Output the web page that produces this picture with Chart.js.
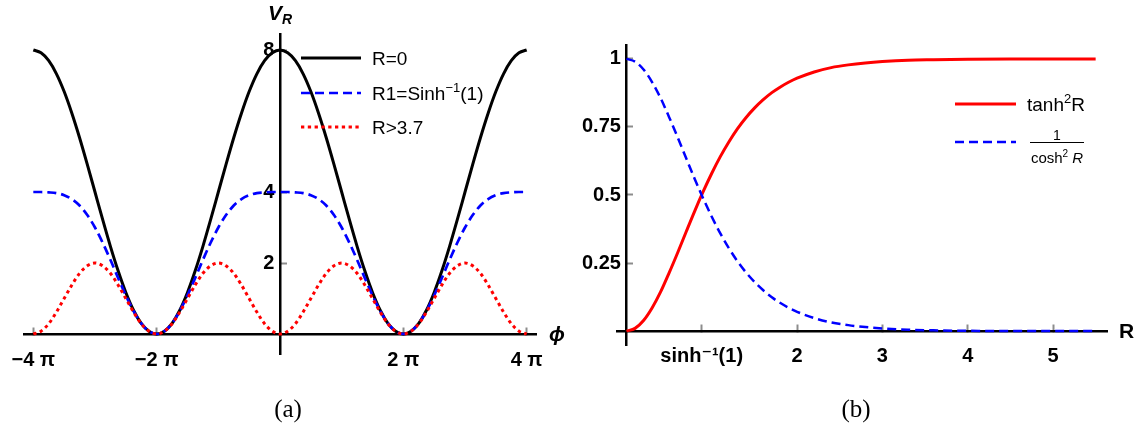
<!DOCTYPE html>
<html>
<head>
<meta charset="utf-8">
<script src="https://cdn.jsdelivr.net/npm/chart.js@4.4.1/dist/chart.umd.min.js"></script>
<style>
  body { margin: 0; background: #fff; }
  #wrap { position: relative; width: 1141px; height: 440px; overflow: hidden; background: #fff; }
  canvas { position: absolute; top: 0; }
  #c1 { left: 0; }
  #c2 { left: 570px; }
  .cap { position: absolute; top: 395px; width: 60px; text-align: center;
         font-family: "Liberation Serif", serif; font-size: 25px; color: #000; }
</style>
</head>
<body>
<div id="wrap">
  <canvas id="c1" width="570" height="440"></canvas>
  <canvas id="c2" width="571" height="440"></canvas>
  <div class="cap" style="left:258px">(a)</div>
  <div class="cap" style="left:826px">(b)</div>
</div>
<script>
// ---- panel (a): phi in units of pi ----
const phi = [-4, -3.875, -3.75, -3.625, -3.5, -3.375, -3.25, -3.125,
  -3, -2.875, -2.75, -2.625, -2.5, -2.375, -2.25, -2.125,
  -2, -1.875, -1.75, -1.625, -1.5, -1.375, -1.25, -1.125,
  -1, -0.875, -0.75, -0.625, -0.5, -0.375, -0.25, -0.125,
  0, 0.125, 0.25, 0.375, 0.5, 0.625, 0.75, 0.875,
  1, 1.125, 1.25, 1.375, 1.5, 1.625, 1.75, 1.875,
  2, 2.125, 2.25, 2.375, 2.5, 2.625, 2.75, 2.875,
  3, 3.125, 3.25, 3.375, 3.5, 3.625, 3.75, 3.875, 4];

// R=0
const vR0 = [8.00, 7.92, 7.70, 7.33, 6.83, 6.22, 5.53, 4.78, 4.00, 3.22, 2.47, 1.78, 1.17, 0.67, 0.30, 0.08,
  0.00, 0.08, 0.30, 0.67, 1.17, 1.78, 2.47, 3.22, 4.00, 4.78, 5.53, 6.22, 6.83, 7.33, 7.70, 7.92,
  8.00, 7.92, 7.70, 7.33, 6.83, 6.22, 5.53, 4.78, 4.00, 3.22, 2.47, 1.78, 1.17, 0.67, 0.30, 0.08,
  0.00, 0.08, 0.30, 0.67, 1.17, 1.78, 2.47, 3.22, 4.00, 4.78, 5.53, 6.22, 6.83, 7.33, 7.70, 7.92, 8.00];

// R1 = sinh^-1(1)
const vR1 = [4.00, 4.00, 3.99, 3.97, 3.91, 3.80, 3.62, 3.35, 3.00, 2.57, 2.09, 1.58, 1.09, 0.65, 0.30, 0.08,
  0.00, 0.08, 0.30, 0.65, 1.09, 1.58, 2.09, 2.57, 3.00, 3.35, 3.62, 3.80, 3.91, 3.97, 3.99, 4.00,
  4.00, 4.00, 3.99, 3.97, 3.91, 3.80, 3.62, 3.35, 3.00, 2.57, 2.09, 1.58, 1.09, 0.65, 0.30, 0.08,
  0.00, 0.08, 0.30, 0.65, 1.09, 1.58, 2.09, 2.57, 3.00, 3.35, 3.62, 3.80, 3.91, 3.97, 3.99, 4.00, 4.00];

// R > 3.7
const vR37 = [0.00, 0.08, 0.29, 0.62, 1.00, 1.38, 1.71, 1.92, 2.00, 1.92, 1.71, 1.38, 1.00, 0.62, 0.29, 0.08,
  0.00, 0.08, 0.29, 0.62, 1.00, 1.38, 1.71, 1.92, 2.00, 1.92, 1.71, 1.38, 1.00, 0.62, 0.29, 0.08,
  0.00, 0.08, 0.29, 0.62, 1.00, 1.38, 1.71, 1.92, 2.00, 1.92, 1.71, 1.38, 1.00, 0.62, 0.29, 0.08,
  0.00, 0.08, 0.29, 0.62, 1.00, 1.38, 1.71, 1.92, 2.00, 1.92, 1.71, 1.38, 1.00, 0.62, 0.29, 0.08, 0.00];

const phiTicks = [-4, -2, 2, 4];
const phiTickLabels = ['\u22124 \u03c0', '\u22122 \u03c0', '2 \u03c0', '4 \u03c0'];
const vTicks = [2, 4, 8];
const vTickLabels = ['2', '4', '8'];

// ---- panel (b) ----
const rVals = [0, 0.1, 0.2, 0.3, 0.4, 0.5, 0.6, 0.7, 0.8, 0.9, 1.0, 1.1, 1.2, 1.3, 1.4, 1.5, 1.6, 1.7, 1.8, 1.9, 2.0,
  2.2, 2.4, 2.6, 2.8, 3.0, 3.3, 3.6, 4.0, 4.5, 5.0, 5.5];
const tanh2 = [0, 0.010, 0.039, 0.085, 0.144, 0.214, 0.288, 0.365, 0.441, 0.513, 0.580, 0.641, 0.695, 0.743, 0.784,
  0.819, 0.849, 0.875, 0.896, 0.914, 0.929, 0.952, 0.968, 0.978, 0.985, 0.990, 0.995, 0.997, 0.999, 1.000, 1.000, 1.000];
const sech2 = [1, 0.990, 0.961, 0.915, 0.856, 0.786, 0.712, 0.635, 0.559, 0.487, 0.420, 0.359, 0.305, 0.257, 0.216,
  0.181, 0.151, 0.125, 0.104, 0.086, 0.071, 0.048, 0.032, 0.022, 0.015, 0.010, 0.005, 0.003, 0.001, 0.0005, 0.0002, 0.0001];

const rTicks = [0.8814, 2, 3, 4, 5];
const rTickLabels = ['sinh\u207b\u00b9(1)', '2', '3', '4', '5'];
const fTicks = [0.25, 0.5, 0.75, 1];
const fTickLabels = ['0.25', '0.5', '0.75', '1'];

const FAM = '"Liberation Sans", "DejaVu Sans", sans-serif';
const tickFont = { family: FAM, size: 20, weight: 'bold' };

// gap: trailing space so y labels sit a little left of the axis line
function axis(min, max, ticks, labels, pos, pad, gap) {
  return {
    type: 'linear', min: min, max: max, position: pos,
    border: { color: '#000', width: 2.5 },
    grid: { drawOnChartArea: false, tickLength: -8, tickColor: '#8c8c8c', tickWidth: 2 },
    ticks: { color: '#000', font: tickFont, padding: pad, autoSkip: false, maxRotation: 0,
      callback: (v, i) => labels[i] + (gap || '') },
    afterBuildTicks: s => { s.ticks = ticks.map(v => ({ value: v })); },
    afterFit: s => { s.paddingLeft = s.paddingRight = s.paddingTop = s.paddingBottom = 0; }
  };
}

function fontOf(p) {
  return (p.it ? 'italic ' : '') + (p.b ? 'bold ' : '') + p.s + 'px ' + FAM;
}

function rich(ctx, x, y, parts, align) {
  let w = 0;
  parts.forEach(p => { ctx.font = fontOf(p); p.w = ctx.measureText(p.t).width; w += p.w; });
  let cx = align === 'center' ? x - w / 2 : x;
  ctx.fillStyle = '#000';
  ctx.textAlign = 'left';
  ctx.textBaseline = 'alphabetic';
  parts.forEach(p => { ctx.font = fontOf(p); ctx.fillText(p.t, cx, y + (p.dy || 0)); cx += p.w; });
}

// legend samples, axis names and the fraction, drawn after the chart
const overlay = {
  id: 'overlay',
  afterDraw(chart, args, opts) {
    const ctx = chart.ctx;
    ctx.save();
    (opts.legend || []).forEach(l => {
      const ds = chart.data.datasets[l.ds];
      ctx.strokeStyle = ds.borderColor;
      ctx.lineWidth = ds.borderWidth;
      ctx.setLineDash(ds.borderDash || []);
      ctx.beginPath();
      ctx.moveTo(l.x1, l.y);
      ctx.lineTo(l.x2, l.y);
      ctx.stroke();
    });
    ctx.setLineDash([]);
    (opts.texts || []).forEach(t => rich(ctx, t.x, t.y, t.parts, t.align));
    (opts.bars || []).forEach(b => {
      ctx.strokeStyle = '#000';
      ctx.lineWidth = 1.2;
      ctx.beginPath();
      ctx.moveTo(b.x1, b.y);
      ctx.lineTo(b.x2, b.y);
      ctx.stroke();
    });
    ctx.restore();
  }
};

function line(xs, ys, color, width, dash, order) {
  return {
    data: xs.map((x, i) => ({ x: x, y: ys[i] })),
    borderColor: color, borderWidth: width, borderDash: dash,
    pointRadius: 0, fill: false, cubicInterpolationMode: 'monotone', order: order
  };
}

new Chart(document.getElementById('c1'), {
  type: 'line',
  data: {
    datasets: [
      line(phi, vR0, '#000000', 3, [], 3),
      line(phi, vR1, '#0000ff', 2.7, [9, 5], 2),
      line(phi, vR37, '#ff0000', 3, [3.3, 3.5], 1)
    ]
  },
  options: {
    responsive: false,
    animation: false,
    layout: { padding: { left: 24, right: 34, top: 34, bottom: 86 } },
    scales: {
      x: axis(-4.151, 4.151, phiTicks, phiTickLabels, { y: 0 }, 22),
      y: axis(-0.563, 8.451, vTicks, vTickLabels, { x: 0 }, 0, ' ')
    },
    plugins: {
      legend: { display: false },
      tooltip: { enabled: false },
      overlay: {
        legend: [
          { ds: 0, x1: 301, x2: 361, y: 58 },
          { ds: 1, x1: 301, x2: 361, y: 93 },
          { ds: 2, x1: 301, x2: 361, y: 127 }
        ],
        texts: [
          { x: 372, y: 65, parts: [{ t: 'R=0', s: 19 }] },
          { x: 372, y: 100, parts: [{ t: 'R1=Sinh', s: 19 }, { t: '\u22121', s: 13, dy: -8 }, { t: '(1)', s: 19 }] },
          { x: 372, y: 134, parts: [{ t: 'R>3.7', s: 19 }] },
          { x: 268, y: 20, parts: [{ t: 'V', s: 21, b: true, it: true }, { t: 'R', s: 14, b: true, it: true, dy: 4 }] },
          { x: 549, y: 341, parts: [{ t: '\u03d5', s: 21, b: true, it: true }] }
        ]
      }
    }
  },
  plugins: [overlay]
});

new Chart(document.getElementById('c2'), {
  type: 'line',
  data: {
    datasets: [
      line(rVals, tanh2, '#ff0000', 3, [], 2),
      line(rVals, sech2, '#0000ff', 2.5, [9, 5], 1)
    ]
  },
  options: {
    responsive: false,
    animation: false,
    layout: { padding: { left: 47, right: 34, top: 45, bottom: 95 } },
    scales: {
      x: axis(-0.111, 5.633, rTicks, rTickLabels, { y: 0 }, 21),
      y: axis(-0.051, 1.051, fTicks, fTickLabels, { x: 0 }, 0, ' ')
    },
    plugins: {
      legend: { display: false },
      tooltip: { enabled: false },
      overlay: {
        legend: [
          { ds: 0, x1: 385, x2: 446, y: 104 },
          { ds: 1, x1: 385, x2: 446, y: 142 }
        ],
        texts: [
          { x: 457, y: 111, parts: [{ t: 'tanh', s: 19 }, { t: '2', s: 13, dy: -8 }, { t: 'R', s: 19 }] },
          { x: 487, y: 139.5, align: 'center', parts: [{ t: '1', s: 14 }] },
          { x: 487, y: 163, align: 'center', parts: [{ t: 'cosh', s: 15 }, { t: '2', s: 10, dy: -6 }, { t: ' ', s: 15 }, { t: 'R', s: 15, it: true }] },
          { x: 549, y: 338, parts: [{ t: 'R', s: 21, b: true }] }
        ],
        bars: [{ x1: 460, x2: 514, y: 142.5 }]
      }
    }
  },
  plugins: [overlay]
});
</script>
</body>
</html>
